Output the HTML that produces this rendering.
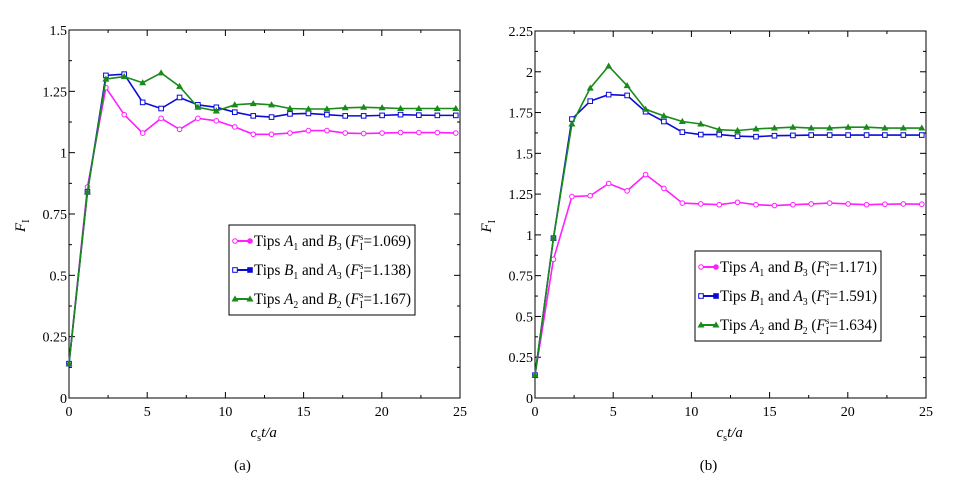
<!DOCTYPE html>
<html><head><meta charset="utf-8"><style>
body{margin:0;background:#fff;}
svg{display:block;font-family:"Liberation Serif",serif;}
</style></head><body>
<svg id="chart" width="953" height="488"></svg>
<script>
const xValues = [0,1.18,2.36,3.53,4.71,5.89,7.07,8.24,9.42,10.6,11.78,12.95,14.13,15.31,16.49,17.66,18.84,20.02,21.2,22.37,23.55,24.73];
const aPink  = [0.14,0.86,1.265,1.155,1.08,1.14,1.095,1.14,1.13,1.105,1.075,1.075,1.08,1.09,1.09,1.08,1.078,1.08,1.082,1.082,1.082,1.08];
const aBlue  = [0.14,0.84,1.315,1.32,1.205,1.18,1.225,1.195,1.185,1.165,1.15,1.145,1.158,1.16,1.155,1.15,1.15,1.152,1.155,1.153,1.152,1.152];
const aGreen = [0.14,0.84,1.30,1.31,1.285,1.325,1.27,1.185,1.17,1.195,1.2,1.195,1.18,1.178,1.178,1.183,1.185,1.183,1.18,1.18,1.18,1.18];
const bPink  = [0.14,0.85,1.235,1.24,1.315,1.27,1.37,1.285,1.195,1.19,1.185,1.2,1.185,1.18,1.185,1.19,1.195,1.19,1.185,1.188,1.19,1.188];
const bBlue  = [0.14,0.98,1.71,1.82,1.86,1.855,1.755,1.695,1.63,1.615,1.615,1.605,1.602,1.608,1.61,1.612,1.612,1.612,1.612,1.612,1.612,1.612];
const bGreen = [0.14,0.98,1.68,1.90,2.035,1.915,1.77,1.73,1.695,1.68,1.645,1.64,1.65,1.655,1.66,1.655,1.655,1.66,1.66,1.655,1.655,1.655];
const xTicks = [0,5,10,15,20,25];
const aYTicks = [0,0.25,0.5,0.75,1,1.25,1.5];
const aYLabels = ["0","0.25","0.5","0.75","1","1.25","1.5"];
const bYTicks = [0,0.25,0.5,0.75,1,1.25,1.5,1.75,2,2.25];
const bYLabels = ["0","0.25","0.5","0.75","1","1.25","1.5","1.75","2","2.25"];
const aLegendVals = ["1.069","1.138","1.167"];
const bLegendVals = ["1.171","1.591","1.634"];

const NS="http://www.w3.org/2000/svg";
const svg=document.getElementById('chart');
function mk(tag,attrs,parent){const e=document.createElementNS(NS,tag);for(const k in attrs)e.setAttribute(k,attrs[k]);(parent||svg).appendChild(e);return e;}

function panel(id,L,R,T,B,ymax,yTicks,yLabels,series,legend,legendVals,caption){
  const g=mk('g',{});
  
  
  const xs=v=>L+(v/25)*(R-L);
  const ys=v=>B-(v/ymax)*(B-T);
  for(let i=0;i<=10;i++){
    const v=i*2.5,x=xs(v),len=(i%2==0)?6:3;
    mk('line',{x1:x,y1:B,x2:x,y2:B-len,stroke:'#000'},g);
    mk('line',{x1:x,y1:T,x2:x,y2:T+len,stroke:'#000'},g);
  }
  xTicks.forEach(v=>{
    const t=mk('text',{x:xs(v),y:B+18,'text-anchor':'middle','font-size':14},g);t.textContent=v;
    
    
  });
  const step=0.125;
  for(let v=0;v<=ymax+1e-9;v+=step){
    const y=ys(v),major=Math.abs(v/0.25-Math.round(v/0.25))<1e-6,len=major?6:3;
    mk('line',{x1:L,y1:y,x2:L+len,y2:y,stroke:'#000'},g);
    mk('line',{x1:R,y1:y,x2:R-len,y2:y,stroke:'#000'},g);
  }
  yTicks.forEach((v,i)=>{
    const t=mk('text',{x:L-2,y:ys(v)+5,'text-anchor':'end','font-size':14},g);t.textContent=yLabels[i];
    
    
  });
  mk('rect',{x:L,y:T,width:R-L,height:B-T,fill:'none',stroke:'#000','stroke-width':1},g);
  series.forEach(s=>{
    const pts=s.vals.map((v,i)=>xs(xValues[i])+','+ys(v)).join(' ');
    const pl=mk('polyline',{points:pts,fill:'none',stroke:s.color,'stroke-width':1.6},g);
    
    
    s.vals.forEach((v,i)=>marker(g,s.shape,xs(xValues[i]),ys(v),s.color,s.name));
  });
  const yt=mk('text',{x:0,y:0,'font-size':15,'font-style':'italic',transform:`translate(${L-44},${(T+B)/2+18}) rotate(-90)`},g);
  yt.innerHTML='F<tspan font-style="normal" font-size="10" dy="4">I</tspan>';
  
  
  const xt=mk('text',{x:(L+R)/2-14,y:B+39,'font-size':15,'font-style':'italic'},g);
  xt.innerHTML='c<tspan font-size="10" dy="4" font-style="normal">s</tspan><tspan dy="-4">t/a</tspan>';
  
  
  const cap=mk('text',{x:(L+R)/2-22,y:B+72,'font-size':15,'text-anchor':'middle'},g);
  cap.textContent=caption;
  
  
  const lg=mk('g',{},g);
  
  
  mk('rect',{x:legend.x,y:legend.y,width:legend.w,height:legend.h,fill:'#fff',stroke:'#000'},lg);
  const names=[['A','1','B','3'],['B','1','A','3'],['A','2','B','2']];
  series.forEach((s,i)=>{
    const ey=legend.y+16+i*29;
    const e=mk('g',{},lg);
    
    
    mk('line',{x1:legend.x+5,y1:ey,x2:legend.x+22,y2:ey,stroke:s.color,'stroke-width':2},e);
    marker(e,s.shape,legend.x+6,ey,s.color,s.name);
    marker(e,s.shape,legend.x+21,ey,s.color,s.name,true);
    const n=names[i];
    const t=mk('text',{x:legend.x+25,y:ey+5,'font-size':15.5,textLength:legend.w-29,lengthAdjust:'spacingAndGlyphs'},e);
    t.innerHTML=`Tips <tspan font-style="italic">${n[0]}</tspan><tspan font-size="10" dy="4">${n[1]}</tspan><tspan dy="-4"> and </tspan><tspan font-style="italic">${n[2]}</tspan><tspan font-size="10" dy="4">${n[3]}</tspan><tspan dy="-4"> (</tspan><tspan font-style="italic">F</tspan><tspan font-size="10" dy="4">I</tspan><tspan font-size="9" dy="-10" dx="-3">s</tspan><tspan dy="6">=${legendVals[i]})</tspan>`;
  });
}
function marker(g,shape,x,y,c,name,filled){
  let m;
  if(shape==='circle') m=mk('circle',{cx:x,cy:y,r:2.3,fill:filled?c:'#fff',stroke:c,'stroke-width':1},g);
  else if(shape==='square') m=mk('rect',{x:x-2.3,y:y-2.3,width:4.6,height:4.6,fill:filled?c:'#fff',stroke:c,'stroke-width':1},g);
  else m=mk('polygon',{points:`${x},${y-3} ${x-3},${y+2.2} ${x+3},${y+2.2}`,fill:c,stroke:c,'stroke-width':0.6},g);
  
  
}
const cols={pink:'#ff1fff',blue:'#0b0bd6',green:'#1a8a1a'};
panel('a',69,460,30,398,1.5,aYTicks,aYLabels,
  [{name:'a1-b3',vals:aPink,color:cols.pink,shape:'circle'},
   {name:'b1-a3',vals:aBlue,color:cols.blue,shape:'square'},
   {name:'a2-b2',vals:aGreen,color:cols.green,shape:'tri'}],
  {x:229,y:225,w:186,h:90},aLegendVals,'(a)');
panel('b',535,926,31,398,2.25,bYTicks,bYLabels,
  [{name:'a1-b3',vals:bPink,color:cols.pink,shape:'circle'},
   {name:'b1-a3',vals:bBlue,color:cols.blue,shape:'square'},
   {name:'a2-b2',vals:bGreen,color:cols.green,shape:'tri'}],
  {x:695,y:251,w:186,h:90},bLegendVals,'(b)');
</script>
</body></html>
